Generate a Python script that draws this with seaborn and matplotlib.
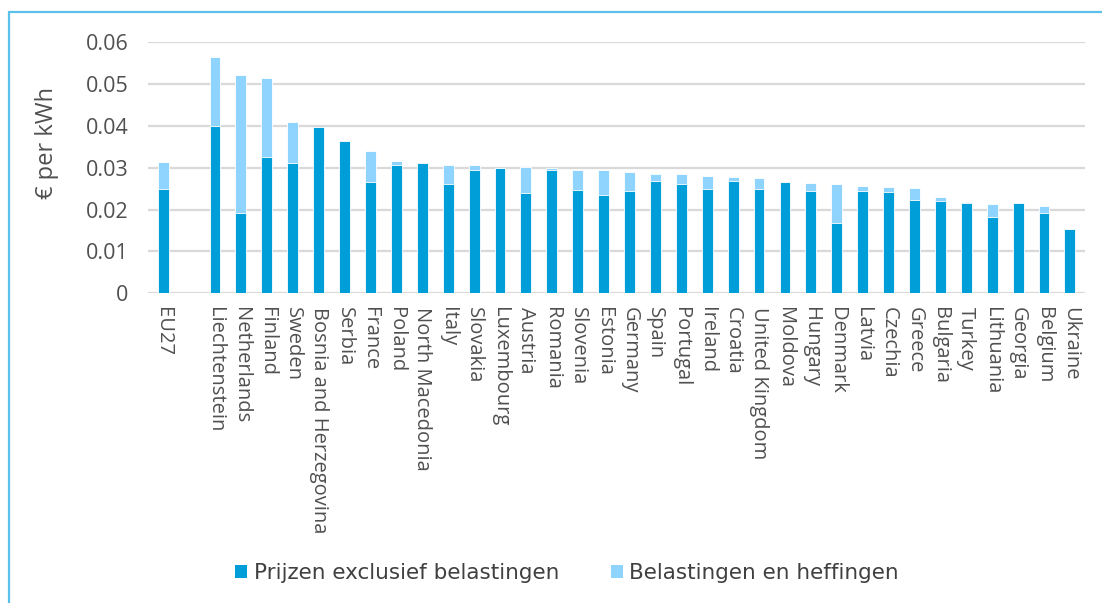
import numpy as np
import pandas as pd
import matplotlib
matplotlib.use('Agg')
import matplotlib.pyplot as plt
import seaborn as sns
from matplotlib.patches import Patch
from matplotlib.lines import Line2D

# data (EUR per kWh)
countries = ['EU27', 'Liechtenstein', 'Netherlands', 'Finland', 'Sweden',
             'Bosnia and Herzegovina', 'Serbia', 'France', 'Poland',
             'North Macedonia', 'Italy', 'Slovakia', 'Luxembourg', 'Austria',
             'Romania', 'Slovenia', 'Estonia', 'Germany', 'Spain', 'Portugal',
             'Ireland', 'Croatia', 'United Kingdom', 'Moldova', 'Hungary',
             'Denmark', 'Latvia', 'Czechia', 'Greece', 'Bulgaria', 'Turkey',
             'Lithuania', 'Georgia', 'Belgium', 'Ukraine']
price_excl = [0.0250, 0.0399, 0.0191, 0.0326, 0.0310,
              0.0397, 0.0363, 0.0266, 0.0307,
              0.0310, 0.0260, 0.0294, 0.0300, 0.0240,
              0.0294, 0.0246, 0.0235, 0.0244, 0.0267, 0.0262,
              0.0248, 0.0269, 0.0250, 0.0266, 0.0244,
              0.0167, 0.0244, 0.0241, 0.0223, 0.0221, 0.0216,
              0.0183, 0.0215, 0.0192, 0.0153]
taxes = [0.0064, 0.0165, 0.0330, 0.0187, 0.0099,
         0.0, 0.0, 0.0074, 0.0010,
         0.0, 0.0047, 0.0013, 0.0, 0.0062,
         0.0006, 0.0048, 0.0059, 0.0045, 0.0019, 0.0022,
         0.0033, 0.0009, 0.0025, 0.0, 0.0020,
         0.0094, 0.0012, 0.0012, 0.0029, 0.0009, 0.0002,
         0.0031, 0.0, 0.0017, 0.0]
legend_labels = ['Prijzen exclusief belastingen', 'Belastingen en heffingen']
yticks = [0, 0.01, 0.02, 0.03, 0.04, 0.05, 0.06]
ytick_labels = ['0', '0.01', '0.02', '0.03', '0.04', '0.05', '0.06']

df = pd.DataFrame({'country': countries, 'base': price_excl, 'tax': taxes})
df['total'] = df['base'] + df['tax']

# empty slot after EU27
order = [countries[0], ' '] + countries[1:]

dark = '#009ED8'
light = '#8FD4FF'
txt = '#505050'

sns.set_style('white')
plt.rcParams['font.family'] = ['Open Sans', 'DejaVu Sans']

fig = plt.figure(figsize=(11.02, 6.03), dpi=100)
ax = fig.add_axes([0.134, 0.5136, 0.851, 0.4167])

sns.barplot(data=df, x='country', y='total', order=order, color=light,
            width=0.42, saturation=1, linewidth=0.6, edgecolor='white', ax=ax)
sns.barplot(data=df, x='country', y='base', order=order, color=dark,
            width=0.42, saturation=1, linewidth=0.6, edgecolor='white', ax=ax)

ax.set_ylim(0, 0.06)
ax.set_xlim(-0.6, len(order) - 0.4)
ax.set_yticks(yticks)
ax.set_yticklabels(ytick_labels, fontsize=15.5, color=txt)
ax.yaxis.grid(True, color='#D9D9D9', linewidth=1.6)
ax.set_axisbelow(True)
for s in ax.spines.values():
    s.set_visible(False)
ax.tick_params(axis='both', length=0)
ax.tick_params(axis='y', pad=14)
ax.tick_params(axis='x', pad=10)
plt.setp(ax.get_xticklabels(), rotation=-90, fontsize=14.5, color=txt,
         ha='center', va='top')

ax.set_xlabel('')
ax.set_ylabel('€ per kWh', fontsize=17, color=txt)
ax.yaxis.set_label_coords(-0.095, 0.6)

handles = [Patch(facecolor=dark, edgecolor='none'),
           Patch(facecolor=light, edgecolor='none')]
fig.legend(handles, legend_labels, loc='center', bbox_to_anchor=(0.5145, 0.05),
           ncol=2, frameon=False, handlelength=0.55, handleheight=0.55,
           handletextpad=0.3, columnspacing=2.4,
           prop={'family': 'DejaVu Sans', 'size': 15.5}, labelcolor='#404040')

# light blue frame (top and left edges)
frame_c = '#5BC0EB'
fig.add_artist(Line2D([9 / 1102, 9 / 1102], [0, 1 - 12 / 603], color=frame_c,
                      linewidth=1.6, transform=fig.transFigure))
fig.add_artist(Line2D([9 / 1102, 1], [1 - 12 / 603, 1 - 12 / 603], color=frame_c,
                      linewidth=1.6, transform=fig.transFigure))

fig.savefig('out.png', dpi=100)
